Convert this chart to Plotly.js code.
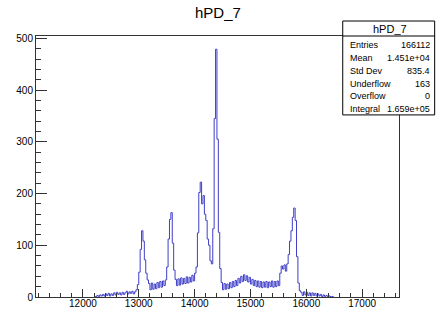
<!DOCTYPE html>
<html>
<head>
<meta charset="utf-8">
<script src="https://cdn.plot.ly/plotly-3.0.1.min.js"></script>
<style>html,body{margin:0;padding:0;background:#fff;}#chart{width:436px;height:315px;}</style>
</head>
<body>
<div id="chart"></div>
<script>
// Histogram hPD_7: bin low edge start and bin width
const binStart = 12200;
const binWidth = 25;
// counts per bin
const counts = [
  0,1,3,1,4,2,5,2,6,3,7,2,6,3,8,4,9,5,8,4,
  9,5,8,11,6,10,7,11,6,10,14,24,48,92,128,108,72,46,33,26,
  14,27,15,25,16,28,18,30,19,31,22,33,58,112,150,163,104,52,34,22,
  35,23,37,25,36,26,39,27,38,29,42,31,46,58,124,202,222,180,196,160,
  148,112,100,70,64,132,345,479,305,125,55,28,14,26,15,25,16,28,18,30,
  20,32,22,36,27,40,30,43,32,41,29,38,25,34,22,32,20,31,19,30,
  18,29,19,30,18,29,20,31,19,30,20,31,22,46,60,54,62,50,64,82,
  108,128,154,172,148,78,27,12,9,3,10,4,9,3,8,2,8,3,7,2,
  6,2,5,1,4,1,3,1,2,1,1,0
];
const xTickVals = [12000,13000,14000,15000,16000,17000];
const yTickVals = [0,100,200,300,400,500];
const histTitle = "hPD_7";
const statLabels = ["Entries","Mean","Std Dev","Underflow","Overflow","Integral"];
const statValues = ["166112","1.451e+04","835.4","163","0","1.659e+05"];

const xs = [], ys = [];
for (let i = 0; i < counts.length; i++) { xs.push(binStart + i*binWidth); ys.push(counts[i]); }
xs.push(binStart + counts.length*binWidth); ys.push(counts[counts.length-1]);

// plot frame in pixels
const L = 36, R = 399.3, T = 36, B = 297.3;
const W = 436, H = 315;
const px2x = p => (p - L) / (R - L);
const py2y = p => (B - p) / (B - T);

const font = "Liberation Sans, Arial, sans-serif";
const axisCol = "#333";

const shapes = [
  {type:'rect', xref:'paper', yref:'paper', x0:px2x(343), x1:px2x(435), y0:py2y(115), y1:py2y(21),
   line:{color:'#000', width:1}, fillcolor:'#fff', layer:'above'},
  {type:'line', xref:'paper', yref:'paper', x0:px2x(343), x1:px2x(435), y0:py2y(36), y1:py2y(36),
   line:{color:'#000', width:1}, layer:'above'}
];
const annotations = [
  {text:histTitle, xref:'paper', yref:'paper', x:px2x(218), y:py2y(12), showarrow:false,
   xanchor:'center', yanchor:'middle', font:{family:font, size:15, color:'#000'}},
  {text:histTitle, xref:'paper', yref:'paper', x:px2x(390), y:py2y(29), showarrow:false,
   xanchor:'center', yanchor:'middle', font:{family:font, size:11, color:'#000'}}
];
statLabels.forEach((lab, i) => {
  const yy = 45.5 + i*12.7;
  annotations.push({text:lab, xref:'paper', yref:'paper', x:px2x(348), y:py2y(yy), showarrow:false,
    xanchor:'left', yanchor:'middle', font:{family:font, size:9, color:'#000'}});
  annotations.push({text:statValues[i], xref:'paper', yref:'paper', x:px2x(432), y:py2y(yy), showarrow:false,
    xanchor:'right', yanchor:'middle', font:{family:font, size:9, color:'#000'}});
});

const trace = {
  x: xs, y: ys, type:'scatter', mode:'lines',
  line:{shape:'hv', color:'rgb(62,62,200)', width:1},
  hoverinfo:'skip'
};

const layout = {
  width:W, height:H,
  margin:{l:L, r:W-R, t:T, b:H-B, pad:0},
  paper_bgcolor:'#fff', plot_bgcolor:'#fff',
  showlegend:false,
  xaxis:{range:[11160,17660], tickmode:'array', tickvals:xTickVals, ticktext:xTickVals.map(String),
    ticks:'inside', ticklen:8, tickcolor:axisCol, tickwidth:1, ticklabelstandoff:-3,
    minor:{dtick:200, tick0:0, ticks:'inside', ticklen:4, tickcolor:axisCol, showgrid:false},
    showgrid:false, zeroline:false, showline:true, mirror:true, linecolor:axisCol, linewidth:1,
    tickfont:{family:font, size:10, color:'#000'}},
  yaxis:{range:[0,504.5], tickmode:'array', tickvals:yTickVals, ticktext:yTickVals.map(String),
    ticks:'inside', ticklen:11, tickcolor:axisCol, tickwidth:1,
    minor:{dtick:20, tick0:0, ticks:'inside', ticklen:5, tickcolor:axisCol, showgrid:false},
    showgrid:false, zeroline:false, showline:true, mirror:true, linecolor:axisCol, linewidth:1,
    tickfont:{family:font, size:10, color:'#000'}},
  shapes: shapes,
  annotations: annotations
};

Plotly.newPlot('chart', [trace], layout, {staticPlot:true, displayModeBar:false});
</script>
</body>
</html>
